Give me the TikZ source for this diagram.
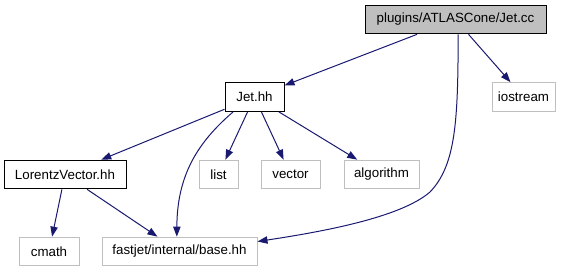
\documentclass[tikz,border=0pt]{standalone}
\usepackage{fontspec}
\setmainfont{Liberation Sans}
\usetikzlibrary{arrows.meta}
\definecolor{edgeblue}{HTML}{191970}
\definecolor{boxgrey}{HTML}{BFBFBF}

\begin{document}
\begin{tikzpicture}[
  x=0.75pt, y=-0.75pt,
  >={Triangle[length=7.5pt,width=5.5pt]},
  every node/.style={font=\fontsize{10}{12}\selectfont, inner sep=0pt,
    minimum height=21.5pt},
  root/.style={draw=black, fill=boxgrey, line width=0.75pt},
  hdr/.style={draw=black, fill=white, line width=0.75pt},
  sys/.style={draw=boxgrey, fill=white, line width=0.75pt},
  dep/.style={->, edgeblue, line width=0.75pt},
]
\useasboundingbox (0,0) rectangle (571,272);

\node[root, minimum width=135.75pt] (cc) at (455.5, 19.5)
  {plugins/ATLASCone/Jet.cc};
\node[hdr, minimum width=44.25pt] (jet) at (254.5, 97) {Jet.hh};
\node[sys, minimum width=47.25pt] (ios) at (523.5, 97) {iostream};
\node[hdr, minimum width=91.5pt] (lv) at (65, 174.5) {LorentzVector.hh};
\node[sys, minimum width=29.25pt] (list) at (218.5, 174.5) {list};
\node[sys, minimum width=44.25pt] (vec) at (290.5, 174.5) {vector};
\node[sys, minimum width=56.25pt] (alg) at (381.5, 174.5) {algorithm};
\node[sys, minimum width=45pt] (cmath) at (49, 251.5) {cmath};
\node[sys, minimum width=116.25pt] (base) at (179.5, 251.5)
  {fastjet/internal/base.hh};

\draw[dep] (cc) -- (jet);
\draw[dep] (cc) -- (ios);
\draw[dep] ([xshift=2pt]cc.south) .. controls (458, 120) and (456, 165)
  .. (430, 192) .. controls (400, 218) and (320, 232)
  .. ([yshift=7.5pt]base.east);

\draw[dep] (jet) -- (lv);
\draw[dep] (jet) -- (list);
\draw[dep] (jet) -- (vec);
\draw[dep] (jet) -- (alg);
\draw[dep] ([xshift=-16pt]jet.south) .. controls (198, 142) and (177, 175)
  .. ([xshift=-2pt]base.north);

\draw[dep] (lv) -- (cmath);
\draw[dep] (lv) -- (base);
\end{tikzpicture}
\end{document}
